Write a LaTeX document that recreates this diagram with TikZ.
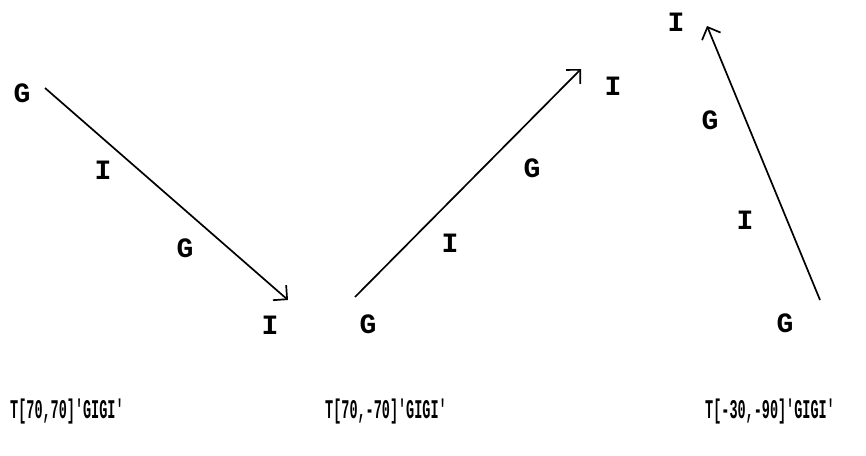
\documentclass[tikz,border=0pt]{standalone}
\usepackage{fontspec}
\setmonofont{Liberation Mono}
\usetikzlibrary{arrows.meta}
\tikzset{
  conn/.style={line width=1.7pt,-{Straight Barb[length=10pt,width=20pt,line width=1.7pt]}},
  lbl/.style={font=\ttfamily\bfseries\fontsize{28}{28}\selectfont, inner sep=0pt},
  captxt/.style={font=\ttfamily\bfseries\fontsize{27}{27}\selectfont, inner sep=0pt}
}
\begin{document}
\begin{tikzpicture}[x=1pt,y=-1pt]
\useasboundingbox[fill=white] (0,0) rectangle (866,455);
% arrow 1
\coordinate (a1s) at (45,88);
\coordinate (a1e) at (288,300);
\draw[conn] (a1s) -- (a1e);
\node[lbl] (g11) at (22,93) {G};
\node[lbl] (i11) at (103,170) {I};
\node[lbl] (g12) at (185,248) {G};
\node[lbl] (i12) at (270,325) {I};
% arrow 2
\coordinate (a2s) at (355,297);
\coordinate (a2e) at (581,69);
\draw[conn] (a2s) -- (a2e);
\node[lbl] (g21) at (368,324) {G};
\node[lbl] (i21) at (450,243) {I};
\node[lbl] (g22) at (532,168) {G};
\node[lbl] (i22) at (613,86) {I};
% arrow 3
\coordinate (a3s) at (820,300);
\coordinate (a3e) at (707,26);
\draw[conn] (a3s) -- (a3e);
\node[lbl] (g31) at (785,323) {G};
\node[lbl] (i31) at (745,220) {I};
\node[lbl] (g32) at (710,120) {G};
\node[lbl] (i32) at (676,22) {I};
% captions
\node[captxt,anchor=west] (c1) at (10,412) {\scalebox{0.5}[1]{T[70,70]'GIGI'}};
\node[captxt,anchor=west] (c2) at (325,412) {\scalebox{0.5}[1]{T[70,-70]'GIGI'}};
\node[captxt,anchor=west] (c3) at (705,412) {\scalebox{0.5}[1]{T[-30,-90]'GIGI'}};
\end{tikzpicture}
\end{document}
